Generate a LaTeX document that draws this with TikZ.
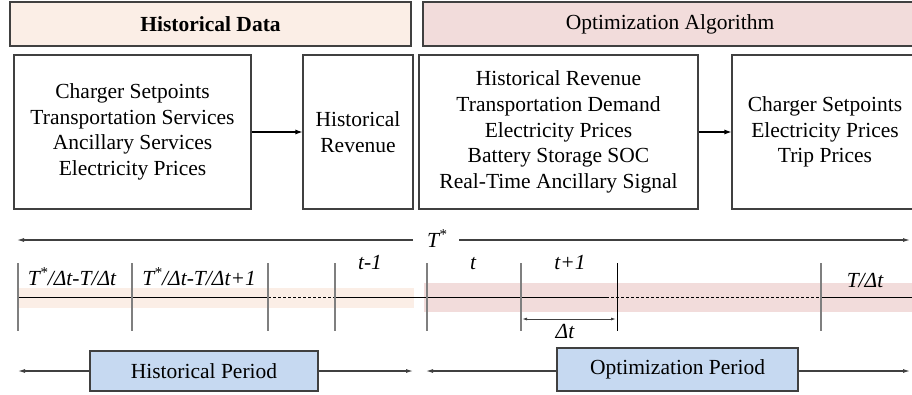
\documentclass[tikz,border=0pt]{standalone}
\usepackage{fontspec}
\setmainfont{Liberation Serif}
\newfontfamily\timesface{Liberation Serif}
\usetikzlibrary{arrows.meta}

\definecolor{peach}{HTML}{FBEEE6}
\definecolor{rosy}{HTML}{F2DCDB}
\definecolor{paleblue}{HTML}{C6D9F1}
\definecolor{edge}{HTML}{404040}
\definecolor{tickgray}{HTML}{7F7F7F}

\tikzset{
  txt/.style={font=\timesface\fontsize{21.5}{25.7}\selectfont},
  box/.style={txt, draw=edge, line width=1.1pt, align=center, inner sep=0pt},
  header/.style={box, minimum height=44pt},
  databox/.style={box, fill=white, minimum height=154pt},
  periodbox/.style={box, draw=edge, fill=paleblue},
  flow/.style={-{Latex[length=7pt,width=5pt]}, line width=1.1pt, black},
  span/.style={-{Latex[length=7pt,width=4pt]}, line width=1.1pt, draw=edge},
  tick/.style={line width=1.1pt, draw=tickgray},
  axis/.style={line width=0.9pt, black},
  axisdash/.style={line width=0.7pt, black, dashed, dash pattern=on 3pt off 2pt},
  slot/.style={font=\timesface\fontsize{21.5}{25.7}\selectfont\itshape, anchor=base, inner sep=0pt},
}

\begin{document}
\begin{tikzpicture}[x=1pt, y=-1pt]
  \useasboundingbox (0,0) rectangle (912,394);
  \clip (0,0) rectangle (912,394);

  % section headers
  \node[header, fill=peach, minimum width=401pt, font=\timesface\fontsize{21.5}{25.7}\selectfont\bfseries] (hd) at (210.5,24) {Historical Data};
  \node[header, fill=rosy, minimum width=494pt] (oa) at (670,24) {Optimization Algorithm};

  % data blocks
  \node[databox, minimum width=237pt] (hin) at (132.5,132)
    {Charger Setpoints\\Transportation Services\\Ancillary Services\\Electricity Prices};
  \node[databox, minimum width=110pt] (hrev) at (358,132) {Historical\\Revenue};
  \node[databox, minimum width=279pt] (oin) at (558.5,132)
    {Historical Revenue\\Transportation Demand\\Electricity Prices\\Battery Storage SOC\\Real-Time Ancillary Signal};
  \node[databox, minimum width=186pt] (oout) at (825,132)
    {Charger Setpoints\\Electricity Prices\\Trip Prices};

  \draw[flow] (hin.east) -- (hrev.west);
  \draw[flow] (oin.east) -- (oout.west);

  % overall horizon T*
  \node[slot] (tstar) at (437,247) {T\textsuperscript{*}};
  \coordinate (tsL) at (413,240);
  \coordinate (tsR) at (459,240);
  \coordinate (tsLend) at (17,240);
  \coordinate (tsRend) at (910,240);
  \draw[span] (tsL) -- (tsLend);
  \draw[span] (tsR) -- (tsRend);

  % shaded bands of the two periods
  \fill[peach] (19,288) rectangle (414,308);
  \fill[rosy] (424,283) rectangle (920,312);

  % time axis
  \draw[axis] (18,297) -- (268,297);
  \draw[axisdash] (268,297) -- (335,297);
  \draw[axis] (335,297) -- (606,297);
  \draw[axisdash] (606,297) -- (821,297);
  \draw[axis] (821,297) -- (920,297);

  % slot boundaries
  \foreach \x in {18,132,268,335,427,521,821}
    \draw[tick] (\x,263) -- (\x,331);
  \draw[line width=0.8pt, black] (617,263) -- (617,331);

  % slot labels
  \node[slot] (s1) at (72,285) {T\textsuperscript{*}/Δt-T/Δt};
  \node[slot] (s2) at (199,285) {T\textsuperscript{*}/Δt-T/Δt+1};
  \node[slot] (s3) at (370,269) {t-1};
  \node[slot] (s4) at (473,269) {t};
  \node[slot] (s5) at (570,269) {t+1};
  \node[slot] (s6) at (865,287) {T/Δt};

  % step length
  \coordinate (dtL) at (522,319);
  \coordinate (dtR) at (616,319);
  \draw[{Latex[length=5pt,width=3pt]}-{Latex[length=5pt,width=3pt]}, line width=0.9pt, draw=edge] (dtL) -- (dtR);
  \node[slot] (dt) at (565,338) {Δt};

  % periods
  \node[periodbox, minimum width=228pt, minimum height=40pt] (hp) at (204,371) {Historical Period};
  \node[periodbox, minimum width=241pt, minimum height=43pt] (op) at (677.5,369.5) {Optimization Period};
  \coordinate (hpL) at (18,371);
  \coordinate (hpR) at (413,371);
  \coordinate (opL) at (426,371);
  \coordinate (opR) at (910,371);
  \draw[span] (hp.west |- hpL) -- (hpL);
  \draw[span] (hp.east |- hpR) -- (hpR);
  \draw[span] (op.west |- opL) -- (opL);
  \draw[span] (op.east |- opR) -- (opR);
\end{tikzpicture}
\end{document}
